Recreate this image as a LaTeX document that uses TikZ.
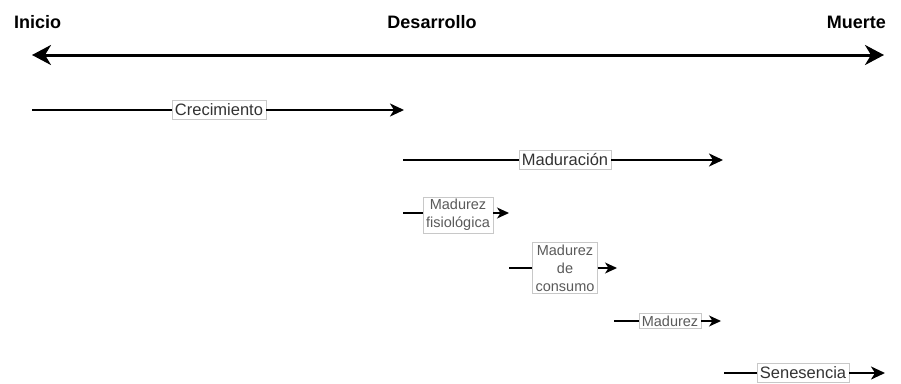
\documentclass[tikz,border=0pt]{standalone}
\usepackage{fontspec}
\setmainfont{Liberation Sans}
\usepackage{xcolor}
\usetikzlibrary{positioning,arrows.meta}
\definecolor{cText}{HTML}{333333}
\definecolor{cSub}{HTML}{5A5A5A}
\definecolor{cFrame}{HTML}{C8C8C8}
\tikzset{
  stage/.style={font=\bfseries\fontsize{18}{20}\selectfont,inner sep=0pt},
  lblmain/.style={draw=cFrame,fill=white,text=cText,line width=0.5pt,font=\fontsize{16.5}{19}\selectfont,inner xsep=3pt,inner ysep=0pt,minimum height=19pt},
  lblsub/.style={draw=cFrame,fill=white,text=cSub,line width=0.5pt,align=center,font=\fontsize{14.5}{18}\selectfont,inner xsep=3pt,inner ysep=2pt},
  axis/.style={{Stealth[length=19pt,width=20pt,inset=6pt]}-{Stealth[length=19pt,width=20pt,inset=6pt]},line width=3pt},
  arr/.style={-{Stealth[length=14pt,width=13pt,inset=4pt]},line width=2pt},
  sline/.style={line width=1.3pt},
  sarr/.style={sline,-{Stealth[length=12pt,width=11pt,inset=3.5pt]}}}
\begin{document}
\begin{tikzpicture}[x=1pt,y=-1pt]
\useasboundingbox (0,0) rectangle (901,383);
% stages
\node[stage,anchor=west] (inicio) at (14,22) {Inicio};
\node[stage] (desarrollo) at (432,22) {Desarrollo};
\node[stage,anchor=east] (muerte) at (886,22) {Muerte};
\coordinate (axL) at (32,55);
\coordinate (axR) at (884,55);
\draw[axis] (axL) -- (axR);
% main phases
\coordinate (creA) at (32,110);  \coordinate (creB) at (404,110);
\coordinate (matA) at (403,160); \coordinate (matB) at (723,160);
\coordinate (senA) at (724,373); \coordinate (senB) at (885,373);
\node[lblmain] (cre) at (219,110) {Crecimiento};
\node[lblmain] (mat) at (565,160) {Maduración};
\node[lblmain] (sen) at (803,373) {Senesencia};
\draw[arr] (creA) -- (cre) -- (creB);
\draw[arr] (matA) -- (mat) -- (matB);
\draw[arr] (senA) -- (sen) -- (senB);
% sub phases
\coordinate (fisA) at (403,213); \coordinate (fisB) at (509,213);
\coordinate (conA) at (509,268); \coordinate (conB) at (617,268);
\coordinate (madA) at (614,321); \coordinate (madB) at (721,321);
\node[lblsub] (fis) at (458,215) {Madurez\\fisiológica};
\node[lblsub] (con) at (565,268) {Madurez\\de\\consumo};
\node[lblsub] (mad) at (670,321) {Madurez};
\draw[sline] (fisA) -- (fisA -| fis.west);
\draw[sarr] (fisB -| fis.east) -- (fisB);
\draw[sarr] (conA) -- (con) -- (conB);
\draw[sarr] (madA) -- (mad) -- (madB);
\end{tikzpicture}
\end{document}
